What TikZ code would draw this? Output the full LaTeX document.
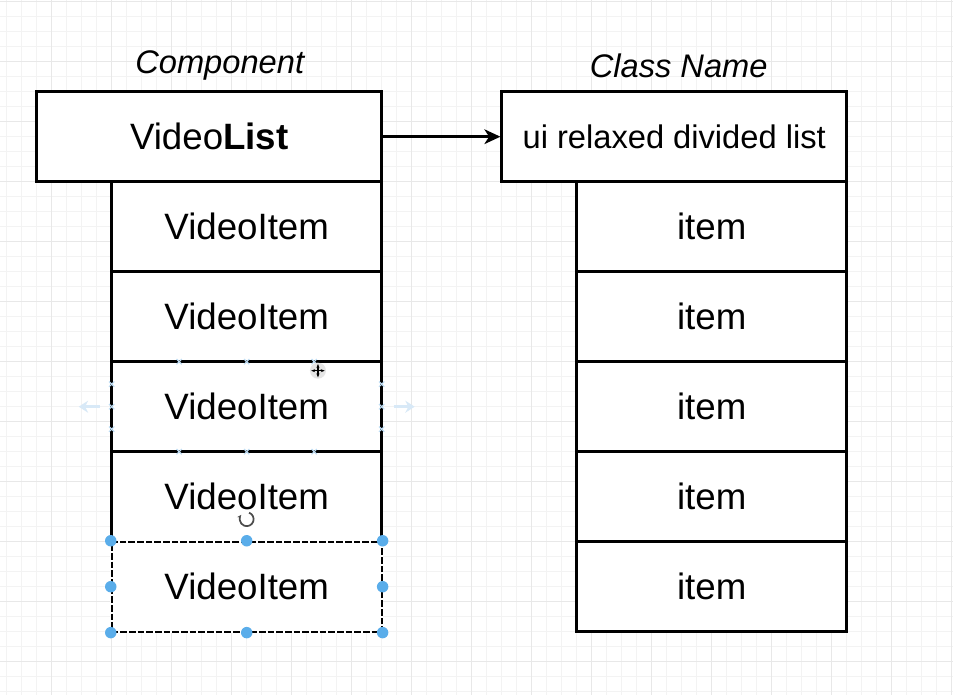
\documentclass[tikz,border=0pt]{standalone}
\usepackage{fontspec}
\setmainfont{Liberation Sans}
\usetikzlibrary{arrows.meta}
\definecolor{handle}{HTML}{5AADEA}
\definecolor{faint}{HTML}{D8E9F7}
\definecolor{gridminor}{HTML}{F3F3F3}
\definecolor{gridmajor}{HTML}{E8E8E8}

\begin{document}
\begin{tikzpicture}[x=11.25pt, y=-11.25pt,
    box/.style={draw, line width=1.9pt, fill=white, inner sep=0pt, minimum height=67.5pt},
    wide/.style={box, minimum width=258.75pt},
    narrow/.style={box, minimum width=202.5pt},
    big/.style={font=\fontsize{27.5}{33}\selectfont},
    small/.style={font=\fontsize{24.5}{30}\selectfont},
    sel/.style={line width=1.4pt, dash pattern=on 5pt off 1.5pt, preaction={draw=white, line width=1.9pt, solid}},
    tick/.style={draw=faint!80!handle, line width=0.8pt}]
    \useasboundingbox (-0.4467,-0.1133) rectangle (63.087,46.22);
    \fill[white] (-0.4467,-0.1133) rectangle (63.087,46.22);
    \foreach \i in {0,...,63} \draw[gridminor] (\i,-0.2) -- (\i,46.3);
    \foreach \j in {0,...,46} \draw[gridminor] (-0.5,\j) -- (63.2,\j);
    \foreach \i in {3,7,...,63} \draw[gridmajor] (\i,-0.2) -- (\i,46.3);
    \foreach \j in {0,4,...,44} \draw[gridmajor] (-0.5,\j) -- (63.2,\j);

    \node[small, font=\itshape\fontsize{24.5}{30}\selectfont] (comp) at (14.2,4.25) {Component};
    \node[small, font=\itshape\fontsize{24.5}{30}\selectfont] (clsname) at (44.8,4.25) {Class Name};

    \node[wide, big] (list) at (13.5,9) {Video\textbf{List}};
    \foreach \k in {1,...,4}
        \node[narrow, big] (item\k) at (16,9+6*\k) {VideoItem};
    \node[narrow, big, sel] (item5) at (16,39) {VideoItem};

    \node[wide, small] (cls) at (44.5,9) {ui relaxed divided list};
    \foreach \k in {1,...,5}
        \node[narrow, big] (cls\k) at (47,9+6*\k) {item};

    \draw[line width=1.9pt, -{Stealth[length=12pt, width=11pt, inset=3.5pt]}] (list) -- (cls);

    \foreach \x in {11.5,16,20.5} {
        \draw[tick] (\x,24) ++(-2pt,-2pt) -- ++(4pt,4pt) ++(-4pt,0) -- ++(4pt,-4pt);
        \draw[tick] (\x,30) ++(-2pt,-2pt) -- ++(4pt,4pt) ++(-4pt,0) -- ++(4pt,-4pt);
    }
    \foreach \y in {25.5,27,28.5} {
        \draw[tick] (7,\y) ++(-2pt,-2pt) -- ++(4pt,4pt) ++(-4pt,0) -- ++(4pt,-4pt);
        \draw[tick] (25,\y) ++(-2pt,-2pt) -- ++(4pt,4pt) ++(-4pt,0) -- ++(4pt,-4pt);
    }
    \draw[faint, line width=2.5pt, -{Stealth[length=7pt, width=9pt]}] ([xshift=-8pt]item3.west) -- ++(-1.4,0);
    \draw[faint, line width=2.5pt, -{Stealth[length=7pt, width=9pt]}] ([xshift=8pt]item3.east) -- ++(1.4,0);

    \foreach \a in {north west,north,north east,east,south east,south,south west,west}
        \fill[handle] (item5.\a) circle (4.3pt);

    \fill[white!90!black] (20.75,24.6) circle (6pt);
    \draw[black, line width=1.1pt, {Stealth[length=3pt]}-{Stealth[length=3pt]}] (20.3,24.6) -- (21.2,24.6);
    \draw[black, line width=1.1pt, {Stealth[length=3pt]}-{Stealth[length=3pt]}] (20.75,24.15) -- (20.75,25.05);
    \draw[black!70, line width=1.3pt, -{Stealth[length=3.5pt]}] (16,34.5) ++(70:5.2pt) arc (70:-220:5.2pt);
\end{tikzpicture}
\end{document}
